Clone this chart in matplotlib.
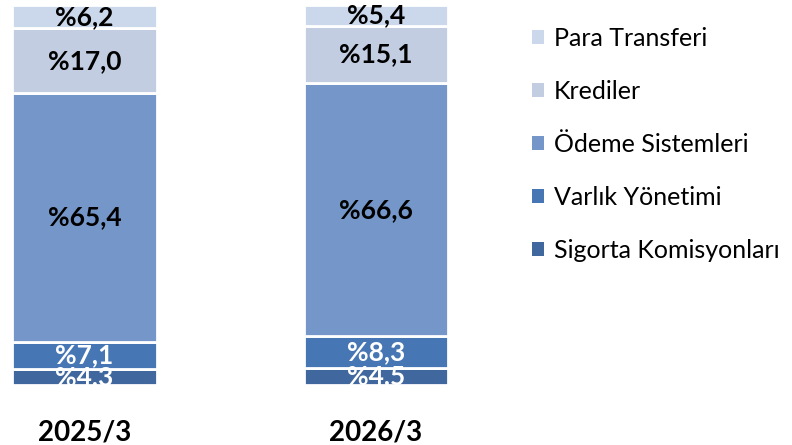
import matplotlib
matplotlib.use("Agg")
import matplotlib.pyplot as plt
from matplotlib.patches import Patch

# --------- data ----------
periods = ["2025/3", "2026/3"]
categories = ["Sigorta Komisyonları", "Varlık Yönetimi", "Ödeme Sistemleri",
              "Krediler", "Para Transferi"]
shares = {
    "Sigorta Komisyonları": [4.3, 4.5],
    "Varlık Yönetimi": [7.1, 8.3],
    "Ödeme Sistemleri": [65.4, 66.6],
    "Krediler": [17.0, 15.1],
    "Para Transferi": [6.2, 5.4],
}
colors = ["#41689E", "#4677B4", "#7496C8", "#C2CDE2", "#CBD8EB"]
label_colors = ["white", "white", "black", "black", "black"]

plt.rcParams["font.family"] = ["Lato", "DejaVu Sans"]

fig = plt.figure(figsize=(7.92, 4.45), dpi=100)
ax = fig.add_axes([0.0, 0.135, 0.581, 0.854])

x = [0, 1]
bottom = [0.0, 0.0]
for cat, col, tc in zip(categories, colors, label_colors):
    vals = shares[cat]
    ax.bar(x, vals, width=0.495, bottom=bottom, color=col,
           edgecolor="white", linewidth=2)
    for xi, v, b in zip(x, vals, bottom):
        ax.text(xi, b + v / 2, f"%{v:.1f}".replace(".", ","),
                ha="center", va="center", fontsize=19, fontweight="bold",
                color=tc, clip_on=True)
    bottom = [b + v for b, v in zip(bottom, vals)]

ax.set_xlim(-0.29, 1.29)
ax.set_ylim(0, 100)
ax.axis("off")

for xi, p in zip(x, periods):
    ax.text(xi, -12.5, p, ha="center", va="center", fontsize=20,
            fontweight="bold", clip_on=False)

handles = [Patch(facecolor=c, edgecolor="none") for c in colors]
leg = fig.legend(handles[::-1], categories[::-1], loc="upper left",
                 bbox_to_anchor=(0.643, 0.99), frameon=False, fontsize=18,
                 handlelength=0.47, handleheight=0.47, handletextpad=0.4,
                 labelspacing=1.2)

fig.savefig("out.png", dpi=100)
